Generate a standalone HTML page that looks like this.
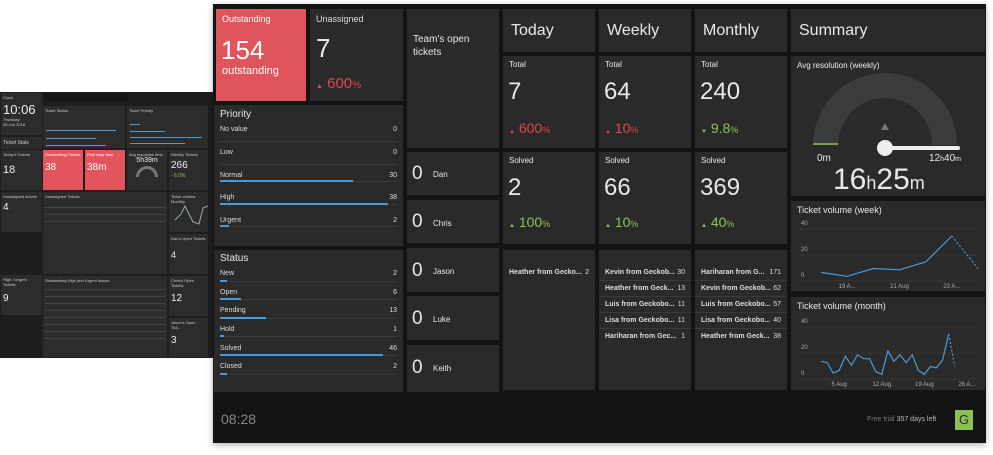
<!DOCTYPE html>
<html><head><meta charset="utf-8"><style>
*{margin:0;padding:0;box-sizing:border-box}
body{width:993px;height:455px;background:#fff;position:relative;overflow:hidden;font-family:"Liberation Sans",sans-serif;color:#e8e8e8}
.a{position:absolute}
.t{position:absolute;background:#2a2a2b}
.lt{position:absolute;background:#2c2c2d;font-size:4px;color:#ccc;padding:2px}
.lbl{font-size:9px;color:#ddd}
.red{color:#e0474f}.grn{color:#8cc152}
.row{position:absolute;left:6px;right:6px;font-size:7px;color:#ddd}
.bar{position:absolute;height:2px;background:#4a9bd9}
.trk{position:absolute;height:1px;background:#3a3a3b}
.li{position:absolute;left:0;right:0;height:16px;border-bottom:1px solid #3a3a3b;font-size:7px;font-weight:bold;color:#ddd;padding:0 6px;line-height:16px}
.li span{float:right;font-weight:normal}
</style></head><body>
<!-- secondary dashboard -->
<div class="a" style="left:0;top:92px;width:214px;height:266px;background:#1d1e20">
 <div class="lt" style="left:1px;top:1px;width:41px;height:42px">Clock<div style="font-size:13px;color:#eee;margin-top:2px">10:06</div><div style="font-size:4px">Thursday<br>28 Jun 2018</div></div>
 <div class="lt" style="left:1px;top:45px;width:41px;height:12px;font-size:5px;padding-top:3px">Ticket Stats</div>
 <div class="a" style="left:44px;top:1px;width:84px;height:8px;background:#161719"></div>
 <div class="lt" style="left:43px;top:14px;width:82px;height:42px">Ticket Status
  <div class="bar" style="left:3px;top:24px;width:70px;height:1px"></div><div class="bar" style="left:3px;top:32px;width:50px;height:1px"></div><div class="bar" style="left:3px;top:39px;width:60px;height:1px"></div></div>
 <div class="lt" style="left:127px;top:14px;width:81px;height:42px">Ticket Priority
  <div class="bar" style="left:3px;top:18px;width:10px;height:1px"></div><div class="bar" style="left:3px;top:25px;width:35px;height:1px"></div><div class="bar" style="left:3px;top:31px;width:72px;height:1px"></div><div class="bar" style="left:3px;top:37px;width:55px;height:1px"></div></div>
 <div class="lt" style="left:1px;top:58px;width:41px;height:40px">Today's Tickets<div style="font-size:11px;color:#eee;margin-top:7px">18</div></div>
 <div class="lt" style="left:43px;top:58px;width:40px;height:40px;background:#e4545c;color:#fff">Outstanding Tickets<div style="font-size:10px;margin-top:5px">38</div></div>
 <div class="lt" style="left:85px;top:58px;width:40px;height:40px;background:#e4545c;color:#fff">First reply time<div style="font-size:10px;margin-top:5px">38m</div></div>
 <div class="lt" style="left:127px;top:58px;width:40px;height:40px">Avg resolution time<div style="font-size:7px;color:#eee;text-align:center">5h39m</div><div style="width:22px;height:11px;border:3px solid #777;border-bottom:none;border-radius:11px 11px 0 0;margin:2px auto 0"></div></div>
 <div class="lt" style="left:169px;top:58px;width:39px;height:40px">Weekly Tickets<div style="font-size:10px;color:#eee;margin-top:3px">266</div><div class="grn" style="font-size:5px;margin-top:2px">- 6.0%</div></div>
 <div class="lt" style="left:1px;top:100px;width:41px;height:40px">Unassigned tickets<div style="font-size:10px;color:#eee;margin-top:3px">4</div></div>
 <div class="lt" style="left:43px;top:100px;width:124px;height:82px">Unassigned Tickets<div style="border-top:1px solid #444;margin-top:8px;height:7px"></div><div style="border-top:1px solid #444;height:7px"></div><div style="border-top:1px solid #444;height:7px"></div></div>
 <div class="lt" style="left:169px;top:100px;width:39px;height:40px">Ticket volume Monthly
  <svg class="a" style="left:4px;top:10px" width="35" height="25"><polyline points="2,18 8,12 12,4 20,20 26,22 30,6 35,4" fill="none" stroke="#9aa" stroke-width="1"/></svg></div>
 <div class="lt" style="left:169px;top:142px;width:39px;height:40px">Dan's Open Tickets<div style="font-size:9px;color:#eee;margin-top:9px">4</div></div>
 <div class="lt" style="left:1px;top:183px;width:41px;height:40px">High / Urgent Tickets<div style="font-size:10px;color:#eee;margin-top:6px">9</div></div>
 <div class="lt" style="left:43px;top:184px;width:124px;height:81px">Outstanding High and Urgent Issues<div style="border-top:1px solid #444;margin-top:6px;height:7px"></div><div style="border-top:1px solid #444;height:7px"></div><div style="border-top:1px solid #444;height:7px"></div><div style="border-top:1px solid #444;height:7px"></div><div style="border-top:1px solid #444;height:7px"></div><div style="border-top:1px solid #444;height:7px"></div><div style="border-top:1px solid #444;height:7px"></div><div style="border-top:1px solid #444;height:7px"></div></div>
 <div class="lt" style="left:169px;top:184px;width:39px;height:40px">Chris's Open Tickets<div style="font-size:10px;color:#eee;margin-top:5px">12</div></div>
 <div class="lt" style="left:169px;top:226px;width:39px;height:39px">Jason's Open Tick...<div style="font-size:10px;color:#eee;margin-top:5px">3</div></div>
</div>

<!-- main dashboard -->
<div class="a" style="left:213px;top:4px;width:773px;height:439px;background:#131416;box-shadow:0 2px 6px rgba(0,0,0,.3)"></div>

<div class="t" style="left:216px;top:9px;width:90px;height:92px;background:#e0545c">
 <div class="a lbl" style="left:6px;top:5px;color:#fff">Outstanding</div>
 <div class="a" style="left:5px;top:26px;font-size:26px;color:#fff">154</div>
 <div class="a" style="left:6px;top:56px;font-size:11px;color:#fff">outstanding</div>
</div>
<div class="t" style="left:310px;top:9px;width:93px;height:92px">
 <div class="a lbl" style="left:6px;top:5px">Unassigned</div>
 <div class="a" style="left:6px;top:24px;font-size:26px">7</div>
 <div class="a red" style="left:6px;top:66px;font-size:15px"><span style="font-size:7px">▲</span> 600<span style="font-size:10px">%</span></div>
</div>
<div class="t" style="left:214px;top:105px;width:189px;height:141px">
 <div class="a" style="left:6px;top:4px;font-size:10px">Priority</div>
 <div class="row" style="top:21px">No value<span style="float:right">0</span></div><div class="trk" style="left:6px;right:6px;top:36px"></div>
 <div class="row" style="top:44px">Low<span style="float:right">0</span></div><div class="trk" style="left:6px;right:6px;top:59px"></div>
 <div class="row" style="top:67px">Normal<span style="float:right">30</span></div><div class="trk" style="left:6px;right:6px;top:76px"></div><div class="bar" style="left:6px;top:75px;width:133px"></div>
 <div class="row" style="top:89px">High<span style="float:right">38</span></div><div class="trk" style="left:6px;right:6px;top:99px"></div><div class="bar" style="left:6px;top:98px;width:168px"></div>
 <div class="row" style="top:112px">Urgent<span style="float:right">2</span></div><div class="trk" style="left:6px;right:6px;top:121px"></div><div class="bar" style="left:6px;top:120px;width:9px"></div>
</div>
<div class="t" style="left:214px;top:250px;width:189px;height:142px">
 <div class="a" style="left:6px;top:3px;font-size:10px">Status</div>
 <div class="row" style="top:20px">New<span style="float:right">2</span></div><div class="trk" style="left:6px;right:6px;top:31px"></div><div class="bar" style="left:6px;top:30px;width:7px"></div>
 <div class="row" style="top:39px">Open<span style="float:right">6</span></div><div class="trk" style="left:6px;right:6px;top:49px"></div><div class="bar" style="left:6px;top:48px;width:21px"></div>
 <div class="row" style="top:57px">Pending<span style="float:right">13</span></div><div class="trk" style="left:6px;right:6px;top:68px"></div><div class="bar" style="left:6px;top:67px;width:46px"></div>
 <div class="row" style="top:76px">Hold<span style="float:right">1</span></div><div class="trk" style="left:6px;right:6px;top:86px"></div><div class="bar" style="left:6px;top:85px;width:4px"></div>
 <div class="row" style="top:95px">Solved<span style="float:right">46</span></div><div class="trk" style="left:6px;right:6px;top:105px"></div><div class="bar" style="left:6px;top:104px;width:163px"></div>
 <div class="row" style="top:113px">Closed<span style="float:right">2</span></div><div class="trk" style="left:6px;right:6px;top:124px"></div><div class="bar" style="left:6px;top:123px;width:7px"></div>
</div>

<div class="t" style="left:407px;top:9px;width:92px;height:139px">
 <div class="a" style="left:6px;top:24px;font-size:10px;line-height:13px">Team's open<br>tickets</div>
</div>
<div class="t" style="left:407px;top:152px;width:92px;height:43px"><span class="a" style="left:5px;top:11px;font-size:19px">0</span><span class="a" style="left:26px;top:18px;font-size:8px">Dan</span></div>
<div class="t" style="left:407px;top:200px;width:92px;height:43px"><span class="a" style="left:5px;top:11px;font-size:19px">0</span><span class="a" style="left:26px;top:19px;font-size:8px">Chris</span></div>
<div class="t" style="left:407px;top:248px;width:92px;height:44px"><span class="a" style="left:5px;top:12px;font-size:19px">0</span><span class="a" style="left:26px;top:19px;font-size:8px">Jason</span></div>
<div class="t" style="left:407px;top:296px;width:92px;height:44px"><span class="a" style="left:5px;top:12px;font-size:19px">0</span><span class="a" style="left:26px;top:19px;font-size:8px">Luke</span></div>
<div class="t" style="left:407px;top:345px;width:92px;height:47px"><span class="a" style="left:5px;top:12px;font-size:19px">0</span><span class="a" style="left:26px;top:19px;font-size:8px">Keith</span></div>

<!-- Today / Weekly / Monthly -->
<div class="t" style="left:503px;top:9px;width:92px;height:43px"><span class="a" style="left:8px;top:13px;font-size:16px">Today</span></div>
<div class="t" style="left:599px;top:9px;width:92px;height:43px"><span class="a" style="left:8px;top:13px;font-size:16px">Weekly</span></div>
<div class="t" style="left:695px;top:9px;width:92px;height:43px"><span class="a" style="left:8px;top:13px;font-size:16px">Monthly</span></div>

<div class="t" style="left:503px;top:56px;width:92px;height:92px"><span class="a" style="left:6px;top:4px;font-size:8px">Total</span><span class="a" style="left:5px;top:22px;font-size:24px">7</span><span class="a red" style="left:6px;top:64px;font-size:14px"><span style="font-size:6px">▲</span> 600<span style="font-size:9px">%</span></span></div>
<div class="t" style="left:599px;top:56px;width:92px;height:92px"><span class="a" style="left:6px;top:4px;font-size:8px">Total</span><span class="a" style="left:5px;top:22px;font-size:24px">64</span><span class="a red" style="left:6px;top:64px;font-size:14px"><span style="font-size:6px">▲</span> 10<span style="font-size:9px">%</span></span></div>
<div class="t" style="left:695px;top:56px;width:92px;height:92px"><span class="a" style="left:6px;top:4px;font-size:8px">Total</span><span class="a" style="left:5px;top:22px;font-size:24px">240</span><span class="a grn" style="left:6px;top:64px;font-size:14px"><span style="font-size:6px">▼</span> 9.8<span style="font-size:9px">%</span></span></div>

<div class="t" style="left:503px;top:152px;width:92px;height:92px"><span class="a" style="left:6px;top:4px;font-size:8px">Solved</span><span class="a" style="left:5px;top:22px;font-size:24px">2</span><span class="a grn" style="left:6px;top:62px;font-size:14px"><span style="font-size:6px">▲</span> 100<span style="font-size:9px">%</span></span></div>
<div class="t" style="left:599px;top:152px;width:92px;height:92px"><span class="a" style="left:6px;top:4px;font-size:8px">Solved</span><span class="a" style="left:5px;top:22px;font-size:24px">66</span><span class="a grn" style="left:6px;top:62px;font-size:14px"><span style="font-size:6px">▲</span> 10<span style="font-size:9px">%</span></span></div>
<div class="t" style="left:695px;top:152px;width:92px;height:92px"><span class="a" style="left:6px;top:4px;font-size:8px">Solved</span><span class="a" style="left:5px;top:22px;font-size:24px">369</span><span class="a grn" style="left:6px;top:62px;font-size:14px"><span style="font-size:6px">▲</span> 40<span style="font-size:9px">%</span></span></div>

<div class="t" style="left:503px;top:250px;width:92px;height:140px">
 <div class="li" style="top:15px;border:none">Heather from Gecko...<span>2</span></div>
</div>
<div class="t" style="left:599px;top:250px;width:92px;height:140px">
 <div class="li" style="top:15px">Kevin from Geckob...<span>30</span></div>
 <div class="li" style="top:31px">Heather from Geck...<span>13</span></div>
 <div class="li" style="top:47px">Luis from Geckobo...<span>11</span></div>
 <div class="li" style="top:63px">Lisa from Geckobo...<span>11</span></div>
 <div class="li" style="top:79px;border:none">Hariharan from Gec...<span>1</span></div>
</div>
<div class="t" style="left:695px;top:250px;width:92px;height:140px">
 <div class="li" style="top:15px">Hariharan from G...<span>171</span></div>
 <div class="li" style="top:31px">Kevin from Geckob...<span>62</span></div>
 <div class="li" style="top:47px">Luis from Geckobo...<span>57</span></div>
 <div class="li" style="top:63px">Lisa from Geckobo...<span>40</span></div>
 <div class="li" style="top:79px;border:none">Heather from Geck...<span>38</span></div>
</div>

<!-- Summary -->
<div class="t" style="left:791px;top:9px;width:194px;height:43px"><span class="a" style="left:8px;top:13px;font-size:16px">Summary</span></div>
<div class="t" style="left:791px;top:56px;width:194px;height:140px">
 <span class="a" style="left:6px;top:5px;font-size:8px">Avg resolution (weekly)</span>
 <svg class="a" style="left:0;top:0" width="194" height="140">
  <path d="M22 89 A72 72 0 0 1 166 89 L141 89 A47 47 0 0 0 47 89 Z" fill="#3c3c3d"/>
  <line x1="22" y1="88" x2="47" y2="88" stroke="#8cc152" stroke-width="1.5"/>
  <polygon points="94,67 90,74 98,74" fill="#777"/>
  <line x1="94" y1="92" x2="167" y2="92" stroke="#eee" stroke-width="4" stroke-linecap="round"/>
  <circle cx="94" cy="92" r="8" fill="#eee"/>
 </svg>
 <span class="a" style="left:26px;top:97px;font-size:10px">0m</span>
 <span class="a" style="left:138px;top:97px;font-size:10px">12<small style="font-size:7px">h</small>40<small style="font-size:7px">m</small></span>
 <span class="a" style="left:42px;top:107px;font-size:30px">16<span style="font-size:18px">h</span>25<span style="font-size:18px">m</span></span>
</div>
<div class="t" style="left:791px;top:201px;width:194px;height:90px">
 <span class="a" style="left:6px;top:4px;font-size:9px">Ticket volume (week)</span>
 <svg id="wk" class="a" style="left:0;top:0" width="194" height="90"></svg>
</div>
<div class="t" style="left:791px;top:297px;width:194px;height:93px">
 <span class="a" style="left:6px;top:4px;font-size:9px">Ticket volume (month)</span>
 <svg id="mo" class="a" style="left:0;top:0" width="194" height="93"></svg>
</div>

<div class="a" style="left:221px;top:411px;font-size:14px;color:#888">08:28</div>
<div class="a" style="left:867px;top:416px;font-size:7px;color:#777">Free trial <span style="color:#bbb">357 days left</span></div>
<div class="a" style="left:955px;top:410px;width:18px;height:20px;background:#8cc152;color:#2a2a2a;font-size:13px;text-align:center;line-height:20px">G</div>

<script>
const weekValues=[2,-1,5,4,10,30];
const weekProjected=5;
const weekTicks=[0,20,40];
const weekLabels=["19 A...","21 Aug","23 A..."];
const weekLabelIdx=[1,3,5];
const monthValues=[9,8,0,2,13,6,14,11,11,1,-1,17,9,14,8,14,2,-1,5,4,10,30];
const monthProjected=5;
const monthTicks=[0,20,40];
const monthLabels=["5 Aug","12 Aug","19 Aug","26 A..."];
const monthLabelIdx=[3,10,17,24];
const NS="http://www.w3.org/2000/svg";
function mk(svg,tag,attrs){const e=document.createElementNS(NS,tag);for(const k in attrs)e.setAttribute(k,attrs[k]);svg.appendChild(e);return e;}
function chart(id,vals,proj,ticks,labels,lidx,y0,y40,x0,x1,n,name){
 const svg=document.getElementById(id);
 const ys=v=>y0+(y40-y0)*v/40;
 const xs=i=>x0+(x1-x0)*i/(n-1);
 ticks.forEach(t=>{
  const l=mk(svg,'line',{x1:8,x2:188,y1:ys(t)+6,y2:ys(t)+6,stroke:'#353536'});
  
  
  const tx=mk(svg,'text',{x:10,y:ys(t)+2,fill:'#aaa','font-size':6,'font-family':'Liberation Sans'});
  tx.textContent=t;
  
  
 });
 labels.forEach((s,i)=>{
  const tx=mk(svg,'text',{x:xs(lidx[i]),y:y0+13,fill:'#aaa','font-size':6,'font-family':'Liberation Sans','text-anchor':'middle'});
  tx.textContent=s;
  
  
 });
 const pl=mk(svg,'polyline',{points:vals.map((v,i)=>xs(i)+','+ys(v)).join(' '),fill:'none',stroke:'#4a9bd9','stroke-width':1.2});
 
 
 const k=vals.length-1;
 const d=mk(svg,'line',{x1:xs(k),y1:ys(vals[k]),x2:xs(k+1),y2:ys(proj),stroke:'#4a9bd9','stroke-width':1.2,'stroke-dasharray':'2,2'});
 
 
}
chart('wk',weekValues,weekProjected,weekTicks,weekLabels,weekLabelIdx,74,22,30,187,7,'week-volume');
chart('mo',monthValues,monthProjected,monthTicks,monthLabels,monthLabelIdx,76,24,30,182,26,'month-volume');
</script>
</body></html>
